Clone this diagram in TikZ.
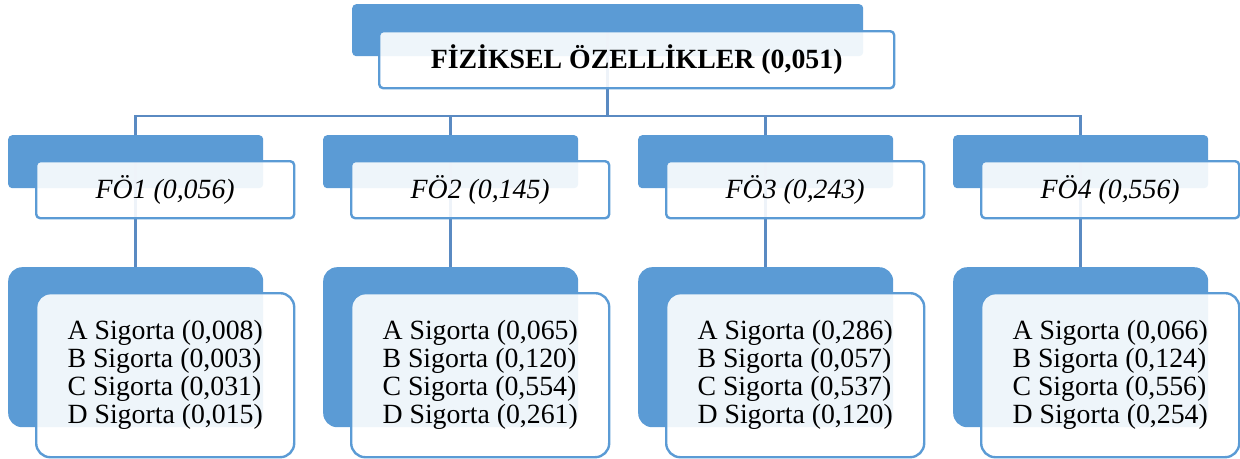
\documentclass[tikz,border=0pt]{standalone}
\usepackage{fontspec}
\setmainfont{Liberation Serif}
\definecolor{accent}{HTML}{5B9BD5}
\definecolor{linec}{HTML}{5A8AC2}
\newcommand{\bigfont}{\fontsize{27.8}{28}\selectfont}
\tikzset{
  back/.style={fill=accent, draw=none, anchor=north west, inner sep=0pt},
  front/.style={fill=white, fill opacity=0.9, text opacity=1, draw=accent, line width=2.4pt, anchor=north west, inner sep=0pt, align=center, font=\bigfont},
  conn/.style={draw=linec, line width=2.6pt},
  leaf/.style={front, rounded corners=14pt, minimum width=258pt, minimum height=164pt, align=left},
  mid/.style={front, rounded corners=4pt, minimum width=258pt, minimum height=57pt, font=\bigfont\itshape},
}
\begin{document}
\begin{tikzpicture}[x=1pt,y=-1pt]
\useasboundingbox (0,0) rectangle (1240,458);
% top
\node[back, rounded corners=4pt, minimum width=511pt, minimum height=52pt] (tback) at (352,4) {};
% level 2 and 3 backs
\foreach \i/\x in {1/8,2/323,3/638,4/953}{
  \node[back, rounded corners=4pt, minimum width=255pt, minimum height=53pt] (b\i back) at (\x,135) {};
  \node[back, rounded corners=14pt, minimum width=255pt, minimum height=160pt] (c\i back) at (\x,267) {};
}
% connectors
\coordinate (bus) at (0,116);
\foreach \i in {1,2,3,4}{
  \draw[conn] (tback.south) |- (bus -| b\i back.north) -- (b\i back.north);
  \draw[conn] (b\i back.center) -- (c\i back.north);
}
\draw[conn] (tback.center) -- (tback.south);
% fronts
\node[front, rounded corners=4pt, minimum width=515pt, minimum height=57pt, font=\bigfont\bfseries] (top) at (378,30)
  {FİZİKSEL ÖZELLİKLER (0,051)};
\node[mid] (b1) at (35,160) {FÖ1 (0,056)};
\node[mid] (b2) at (350,160) {FÖ2 (0,145)};
\node[mid] (b3) at (665,160) {FÖ3 (0,243)};
\node[mid] (b4) at (980,160) {FÖ4 (0,556)};
\node[leaf] (c1) at (35,292) {A Sigorta (0,008)\\B Sigorta (0,003)\\C Sigorta (0,031)\\D Sigorta (0,015)};
\node[leaf] (c2) at (350,292) {A Sigorta (0,065)\\B Sigorta (0,120)\\C Sigorta (0,554)\\D Sigorta (0,261)};
\node[leaf] (c3) at (665,292) {A Sigorta (0,286)\\B Sigorta (0,057)\\C Sigorta (0,537)\\D Sigorta (0,120)};
\node[leaf] (c4) at (980,292) {A Sigorta (0,066)\\B Sigorta (0,124)\\C Sigorta (0,556)\\D Sigorta (0,254)};
\end{tikzpicture}
\end{document}
